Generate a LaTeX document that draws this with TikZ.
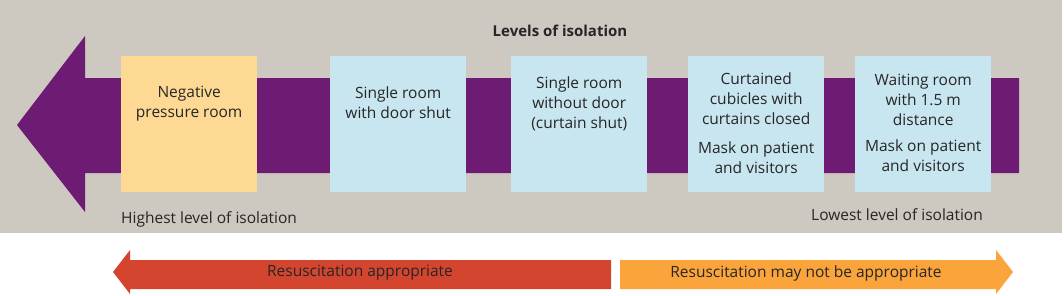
\documentclass[tikz,border=0pt]{standalone}
\usepackage{fontspec}
\setmainfont{Open Sans}
\definecolor{bggray}{HTML}{CDC8C0}
\definecolor{purp}{HTML}{6E1B73}
\definecolor{yel}{HTML}{FDD994}
\definecolor{lblue}{HTML}{C8E6F0}
\definecolor{redc}{HTML}{D4452F}
\definecolor{orgc}{HTML}{FBA43B}
\begin{document}
\begin{tikzpicture}[x=1pt,y=-1pt,
  room/.style={minimum width=136pt,minimum height=136pt,inner sep=0pt,anchor=north west},
  txt/.style={font=\fontsize{15.5}{20}\selectfont,align=center,inner sep=0pt,text=black!85},
  lbl/.style={font=\fontsize{15.5}{18}\selectfont,inner sep=0pt,text=black!85}]
\useasboundingbox (0,0) rectangle (1064,295);
\fill[white] (0,0) rectangle (1064,295);
\fill[bggray] (0,0) rectangle (1062,233);
% purple arrow
\fill[purp] (17,125) -- (85,36) -- (85,78) -- (1019,78) -- (1019,173) -- (85,173) -- (85,212) -- cycle;
% rooms
\node[room,fill=yel] (r1) at (121,56) {};
\node[room,fill=lblue] (r2) at (330,56) {};
\node[room,fill=lblue] (r3) at (511,56) {};
\node[room,fill=lblue] (r4) at (688,56) {};
\node[room,fill=lblue] (r5) at (855,56) {};
\node[txt,anchor=north] (t1) at ([yshift=-30pt]r1.north) {Negative\\pressure room};
\node[txt,anchor=north] (t2) at ([yshift=-31pt]r2.north) {Single room\\with door shut};
\node[txt,anchor=north] (t3) at ([yshift=-21pt]r3.north) {Single room\\without door\\(curtain shut)};
\node[txt,anchor=north] (t4) at ([yshift=-17pt]r4.north) {Curtained\\cubicles with\\curtains closed};
\node[txt,anchor=north] (t4b) at ([yshift=-86pt]r4.north) {Mask on patient\\and visitors};
\node[txt,anchor=north] (t5) at ([yshift=-18pt]r5.north) {Waiting room\\with 1.5 m\\distance};
\node[txt,anchor=north] (t5b) at ([yshift=-84pt]r5.north) {Mask on patient\\and visitors};
\node[lbl,font=\fontsize{15}{18}\selectfont\bfseries] (title) at (560,31) {Levels of isolation};
\node[lbl,anchor=west] (hi) at (121,219) {Highest level of isolation};
\node[lbl,anchor=east] (lo) at (983,215) {Lowest level of isolation};
% bottom arrows
\fill[redc] (113,272) -- (130,250) -- (130,260) -- (611,260) -- (611,289) -- (130,289) -- (130,294) -- cycle;
\fill[orgc] (620,260) -- (996,260) -- (996,250) -- (1013,272) -- (996,294) -- (996,289) -- (620,289) -- cycle;
\node[lbl] (ra) at (360,273) {Resuscitation appropriate};
\node[lbl] (rn) at (806,273) {Resuscitation may not be appropriate};
\end{tikzpicture}
\end{document}
